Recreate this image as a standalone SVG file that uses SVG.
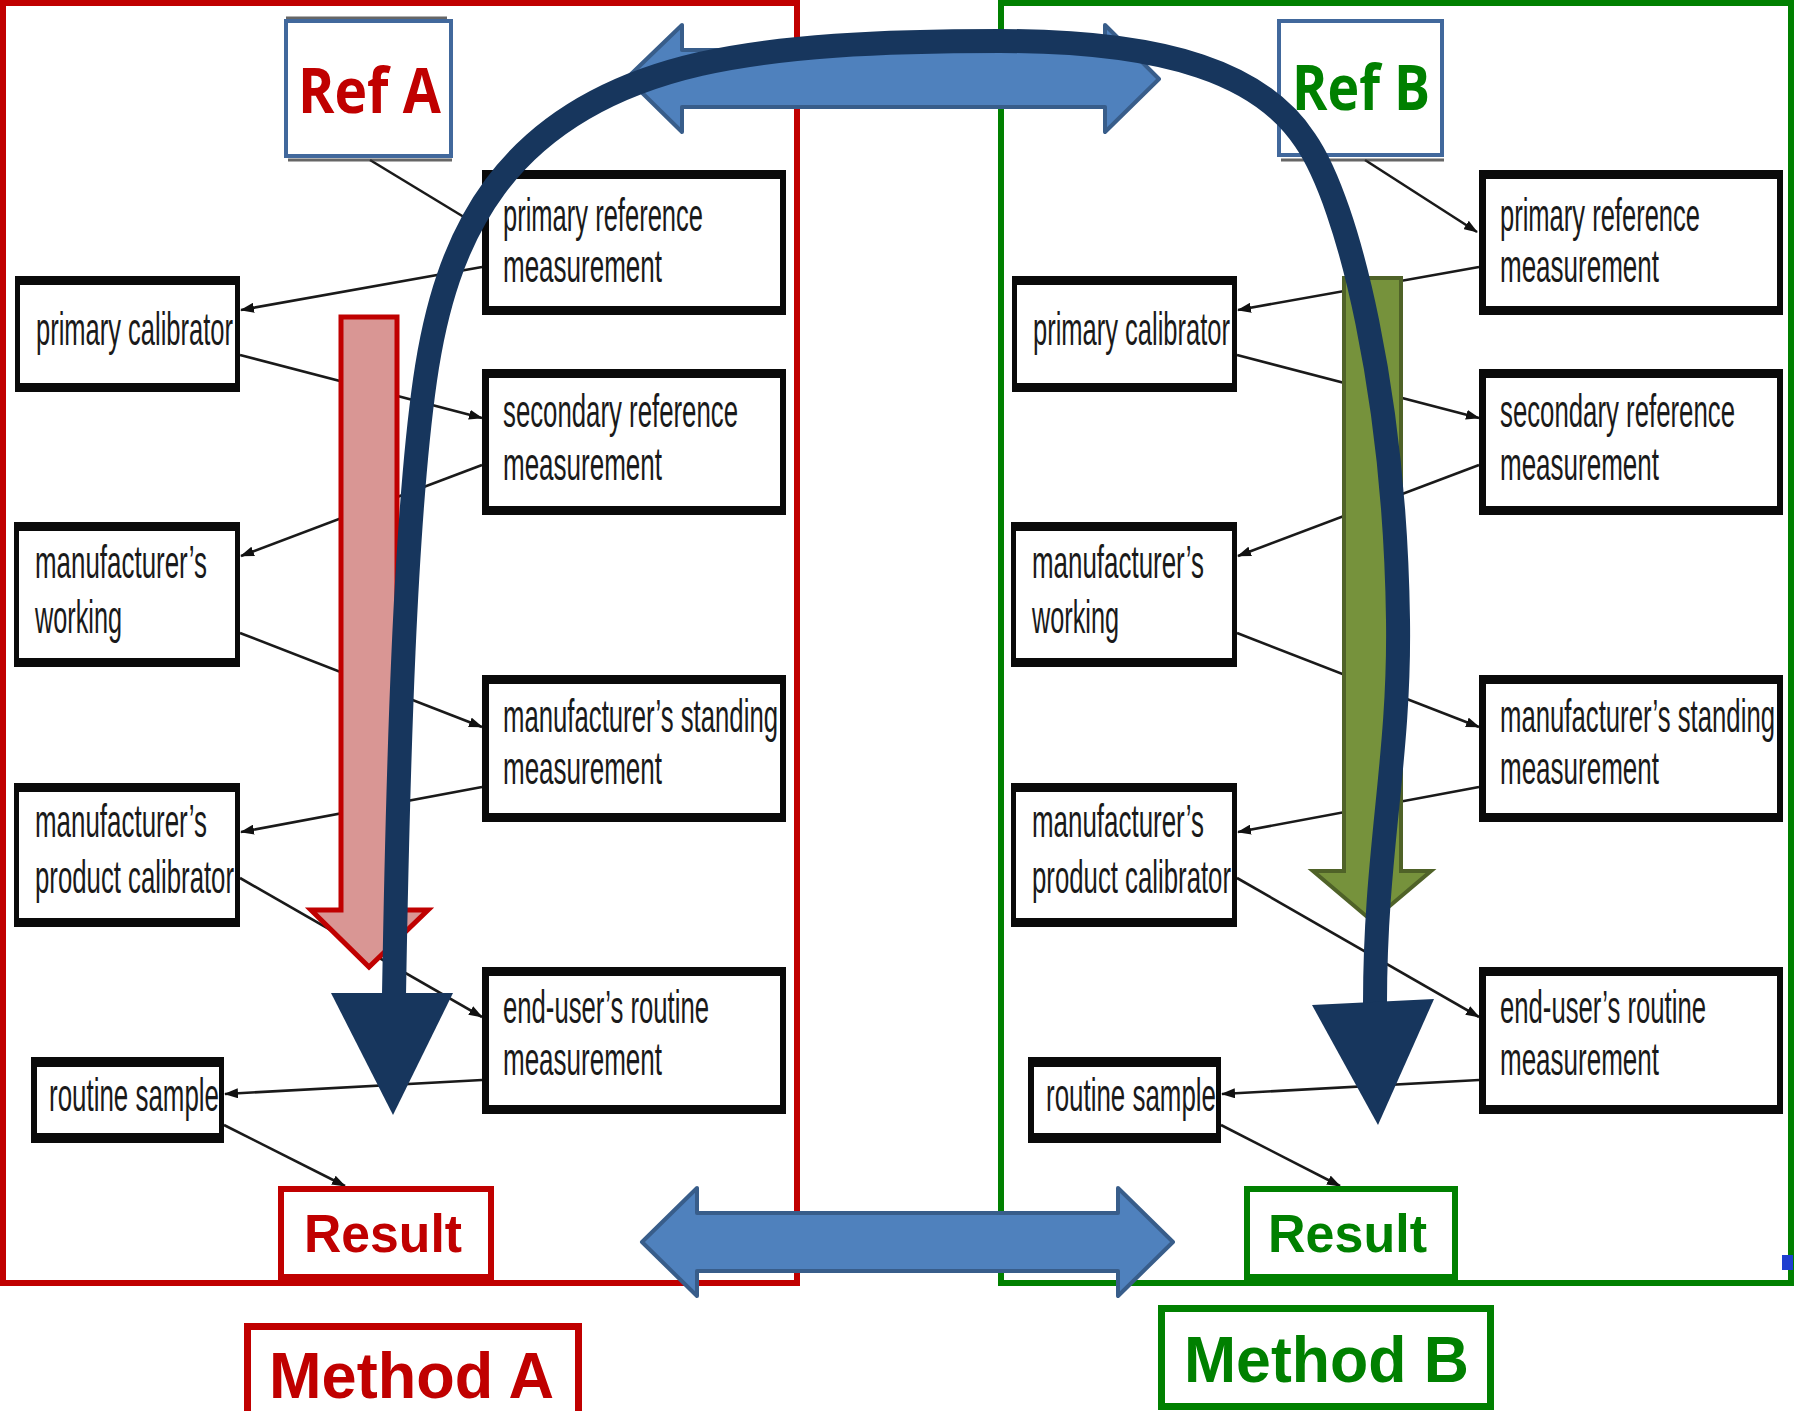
<svg xmlns="http://www.w3.org/2000/svg" width="1795" height="1411" viewBox="0 0 1795 1411">
  <defs>
    <marker id="ah" viewBox="0 0 14 10" refX="13" refY="5" markerWidth="14" markerHeight="10" markerUnits="userSpaceOnUse" orient="auto">
      <path d="M0,0 L14,5 L0,10 z" fill="#111"/>
    </marker>
    <style>
      .conn { stroke: #1a1a1a; stroke-width: 2.6; fill: none; marker-end: url(#ah); }
      .bo { fill: #0a0a0a; }
      .bi { fill: #ffffff; }
      .bt { font-family: "Liberation Sans", Arial, sans-serif; font-size: 46px; fill: #1a1a1a; }
      .ref { fill: #ffffff; stroke: #41689c; stroke-width: 4; }
      .reft { font-family: "Open Sans", "Liberation Sans", sans-serif; font-weight: 700; font-size: 63px; }
      .res { font-family: "Liberation Sans", Arial, sans-serif; font-weight: 700; }
      .red { fill: #c00000; }
      .grn { fill: #008000; }
      .dbl { fill: #4f81bd; stroke: #385d8a; stroke-width: 4; stroke-linejoin: round; }
      .shadow { stroke: #333; stroke-width: 3; opacity: 0.75; }
    </style>
  </defs>

  <rect x="0" y="0" width="1795" height="1411" fill="#ffffff"/>

  <!-- traceability chain, method A (left); box labels are set in a condensed face via a 0.56 horizontal scale -->
  <g id="chain-a">
    <g id="connectors-a">
      <line class="conn" x1="370" y1="160" x2="482" y2="228"/>
      <line class="conn" x1="482" y1="267" x2="241" y2="310"/>
      <line class="conn" x1="240" y1="355" x2="482" y2="418"/>
      <line class="conn" x1="482" y1="465" x2="241" y2="556"/>
      <line class="conn" x1="240" y1="633" x2="482" y2="727"/>
      <line class="conn" x1="482" y1="787" x2="241" y2="832"/>
      <line class="conn" x1="240" y1="878" x2="482" y2="1017"/>
      <line class="conn" x1="482" y1="1080" x2="225" y2="1094"/>
      <line class="conn" x1="224" y1="1125" x2="345" y2="1186"/>
    </g>
    <g id="a-primary-calibrator">
      <rect class="bo" x="15" y="276" width="225" height="116"/>
      <rect class="bi" x="20" y="285" width="215" height="98"/>
      <text class="bt" transform="matrix(0.56 0 0 1 36 345)" textLength="351.8" lengthAdjust="spacingAndGlyphs">primary calibrator</text>
    </g>
    <g id="a-working">
      <rect class="bo" x="14" y="522" width="226" height="145"/>
      <rect class="bi" x="19" y="531" width="216" height="127"/>
      <text class="bt" transform="matrix(0.56 0 0 1 35 578)" textLength="307.1" lengthAdjust="spacingAndGlyphs">manufacturer’s</text>
      <text class="bt" transform="matrix(0.56 0 0 1 35 633)" textLength="155.4" lengthAdjust="spacingAndGlyphs">working</text>
    </g>
    <g id="a-product-calibrator">
      <rect class="bo" x="14" y="783" width="226" height="144"/>
      <rect class="bi" x="19" y="792" width="216" height="126"/>
      <text class="bt" transform="matrix(0.56 0 0 1 35 837)" textLength="307.1" lengthAdjust="spacingAndGlyphs">manufacturer’s</text>
      <text class="bt" transform="matrix(0.56 0 0 1 35 893)" textLength="355.4" lengthAdjust="spacingAndGlyphs">product calibrator</text>
    </g>
    <g id="a-routine-sample">
      <rect class="bo" x="31" y="1057" width="193" height="86"/>
      <rect class="bi" x="37" y="1067" width="182" height="66"/>
      <text class="bt" transform="matrix(0.56 0 0 1 49 1111)" textLength="303.6" lengthAdjust="spacingAndGlyphs">routine sample</text>
    </g>
    <g id="a-primary-ref">
      <rect class="bo" x="482" y="170" width="304" height="145"/>
      <rect class="bi" x="489" y="179" width="291" height="127"/>
      <text class="bt" transform="matrix(0.56 0 0 1 503 231)" textLength="357.1" lengthAdjust="spacingAndGlyphs">primary reference</text>
      <text class="bt" transform="matrix(0.56 0 0 1 503 282)" textLength="283.9" lengthAdjust="spacingAndGlyphs">measurement</text>
    </g>
    <g id="a-secondary-ref">
      <rect class="bo" x="482" y="369" width="304" height="146"/>
      <rect class="bi" x="489" y="378" width="291" height="128"/>
      <text class="bt" transform="matrix(0.56 0 0 1 503 427)" textLength="419.6" lengthAdjust="spacingAndGlyphs">secondary reference</text>
      <text class="bt" transform="matrix(0.56 0 0 1 503 480)" textLength="283.9" lengthAdjust="spacingAndGlyphs">measurement</text>
    </g>
    <g id="a-standing">
      <rect class="bo" x="482" y="675" width="304" height="147"/>
      <rect class="bi" x="489" y="684" width="291" height="129"/>
      <text class="bt" transform="matrix(0.56 0 0 1 503 732)" textLength="491.1" lengthAdjust="spacingAndGlyphs">manufacturer’s standing</text>
      <text class="bt" transform="matrix(0.56 0 0 1 503 784)" textLength="283.9" lengthAdjust="spacingAndGlyphs">measurement</text>
    </g>
    <g id="a-end-user">
      <rect class="bo" x="482" y="967" width="304" height="147"/>
      <rect class="bi" x="489" y="976" width="291" height="129"/>
      <text class="bt" transform="matrix(0.56 0 0 1 503 1023)" textLength="367.9" lengthAdjust="spacingAndGlyphs">end-user’s routine</text>
      <text class="bt" transform="matrix(0.56 0 0 1 503 1075)" textLength="283.9" lengthAdjust="spacingAndGlyphs">measurement</text>
    </g>
  </g>

  <!-- traceability chain, method B (right) -->
  <g id="chain-b" transform="translate(997 0)">
    <g id="connectors-b">
      <line class="conn" x1="368" y1="160" x2="480" y2="232"/>
      <line class="conn" x1="482" y1="267" x2="241" y2="310"/>
      <line class="conn" x1="240" y1="355" x2="482" y2="418"/>
      <line class="conn" x1="482" y1="465" x2="241" y2="556"/>
      <line class="conn" x1="240" y1="633" x2="482" y2="727"/>
      <line class="conn" x1="482" y1="787" x2="241" y2="832"/>
      <line class="conn" x1="240" y1="878" x2="482" y2="1017"/>
      <line class="conn" x1="482" y1="1080" x2="225" y2="1094"/>
      <line class="conn" x1="224" y1="1125" x2="343" y2="1186"/>
    </g>
    <g id="b-primary-calibrator">
      <rect class="bo" x="15" y="276" width="225" height="116"/>
      <rect class="bi" x="20" y="285" width="215" height="98"/>
      <text class="bt" transform="matrix(0.56 0 0 1 36 345)" textLength="351.8" lengthAdjust="spacingAndGlyphs">primary calibrator</text>
    </g>
    <g id="b-working">
      <rect class="bo" x="14" y="522" width="226" height="145"/>
      <rect class="bi" x="19" y="531" width="216" height="127"/>
      <text class="bt" transform="matrix(0.56 0 0 1 35 578)" textLength="307.1" lengthAdjust="spacingAndGlyphs">manufacturer’s</text>
      <text class="bt" transform="matrix(0.56 0 0 1 35 633)" textLength="155.4" lengthAdjust="spacingAndGlyphs">working</text>
    </g>
    <g id="b-product-calibrator">
      <rect class="bo" x="14" y="783" width="226" height="144"/>
      <rect class="bi" x="19" y="792" width="216" height="126"/>
      <text class="bt" transform="matrix(0.56 0 0 1 35 837)" textLength="307.1" lengthAdjust="spacingAndGlyphs">manufacturer’s</text>
      <text class="bt" transform="matrix(0.56 0 0 1 35 893)" textLength="355.4" lengthAdjust="spacingAndGlyphs">product calibrator</text>
    </g>
    <g id="b-routine-sample">
      <rect class="bo" x="31" y="1057" width="193" height="86"/>
      <rect class="bi" x="37" y="1067" width="182" height="66"/>
      <text class="bt" transform="matrix(0.56 0 0 1 49 1111)" textLength="303.6" lengthAdjust="spacingAndGlyphs">routine sample</text>
    </g>
    <g id="b-primary-ref">
      <rect class="bo" x="482" y="170" width="304" height="145"/>
      <rect class="bi" x="489" y="179" width="291" height="127"/>
      <text class="bt" transform="matrix(0.56 0 0 1 503 231)" textLength="357.1" lengthAdjust="spacingAndGlyphs">primary reference</text>
      <text class="bt" transform="matrix(0.56 0 0 1 503 282)" textLength="283.9" lengthAdjust="spacingAndGlyphs">measurement</text>
    </g>
    <g id="b-secondary-ref">
      <rect class="bo" x="482" y="369" width="304" height="146"/>
      <rect class="bi" x="489" y="378" width="291" height="128"/>
      <text class="bt" transform="matrix(0.56 0 0 1 503 427)" textLength="419.6" lengthAdjust="spacingAndGlyphs">secondary reference</text>
      <text class="bt" transform="matrix(0.56 0 0 1 503 480)" textLength="283.9" lengthAdjust="spacingAndGlyphs">measurement</text>
    </g>
    <g id="b-standing">
      <rect class="bo" x="482" y="675" width="304" height="147"/>
      <rect class="bi" x="489" y="684" width="291" height="129"/>
      <text class="bt" transform="matrix(0.56 0 0 1 503 732)" textLength="491.1" lengthAdjust="spacingAndGlyphs">manufacturer’s standing</text>
      <text class="bt" transform="matrix(0.56 0 0 1 503 784)" textLength="283.9" lengthAdjust="spacingAndGlyphs">measurement</text>
    </g>
    <g id="b-end-user">
      <rect class="bo" x="482" y="967" width="304" height="147"/>
      <rect class="bi" x="489" y="976" width="291" height="129"/>
      <text class="bt" transform="matrix(0.56 0 0 1 503 1023)" textLength="367.9" lengthAdjust="spacingAndGlyphs">end-user’s routine</text>
      <text class="bt" transform="matrix(0.56 0 0 1 503 1075)" textLength="283.9" lengthAdjust="spacingAndGlyphs">measurement</text>
    </g>
  </g>

  <!-- method frames -->
  <rect id="frame-a" x="3" y="3" width="794" height="1280" fill="none" stroke="#c00000" stroke-width="6"/>
  <rect id="frame-b" x="1001" y="3" width="790" height="1280" fill="none" stroke="#008000" stroke-width="6"/>
  <rect x="1782" y="1255" width="11" height="15" fill="#1f3fd0"/>

  <!-- reference labels -->
  <g id="ref-a">
    <line class="shadow" x1="286" y1="18" x2="447" y2="18"/>
    <line class="shadow" x1="288" y1="160" x2="452" y2="160"/>
    <rect class="ref" x="286" y="21" width="165" height="135"/>
    <text class="reft red" x="298" y="113" textLength="143" lengthAdjust="spacingAndGlyphs">Ref A</text>
  </g>
  <g id="ref-b">
    <line class="shadow" x1="1281" y1="160" x2="1444" y2="160"/>
    <rect class="ref" x="1279" y="21" width="163" height="134"/>
    <text class="reft grn" x="1292" y="110" textLength="138" lengthAdjust="spacingAndGlyphs">Ref B</text>
  </g>

  <!-- result labels -->
  <g id="result-a">
    <rect x="281" y="1189" width="210" height="88" fill="#ffffff" stroke="#c00000" stroke-width="6"/>
    <text class="res red" x="304" y="1252" font-size="54" textLength="158" lengthAdjust="spacingAndGlyphs">Result</text>
  </g>
  <g id="result-b">
    <rect x="1247" y="1189" width="208" height="88" fill="#ffffff" stroke="#008000" stroke-width="6"/>
    <text class="res grn" x="1268" y="1252" font-size="54" textLength="159" lengthAdjust="spacingAndGlyphs">Result</text>
  </g>

  <!-- downward flow arrows -->
  <polygon id="flow-a" points="341,317 397,317 397,910 428,910 369,967 311,910 341,910" fill="#d99694" stroke="#c00000" stroke-width="5" stroke-linejoin="miter"/>
  <polygon id="flow-b" points="1344,278 1401,278 1401,871 1431,871 1372,921 1313,871 1344,871" fill="#76923c" stroke="#4f6228" stroke-width="4"/>

  <!-- comparison arrows -->
  <polygon id="compare-top" class="dbl" points="627,78 682,25 682,50 1105,50 1105,25 1159,79 1105,132 1105,107 682,107 682,132"/>
  <polygon id="compare-bottom" class="dbl" points="642,1242 697,1188 697,1213 1118,1213 1118,1188 1173,1242 1118,1296 1118,1271 697,1271 697,1296"/>

  <!-- calibration path linking both chains -->
  <g id="calibration-path">
    <path d="M394,995 C398,760 405,520 425,380 C445,240 500,110 700,64 C780,46 880,41 1000,41 C1170,41 1262,75 1305,140 C1350,205 1395,400 1398,620 C1400,760 1375,850 1375,1003" fill="none" stroke="#17365d" stroke-width="24"/>
    <polygon points="331,993 453,993 393,1115" fill="#17365d"/>
    <polygon points="1312,1005 1434,999 1378,1125" fill="#17365d"/>
  </g>

  <!-- method labels -->
  <g id="method-a">
    <rect x="247.5" y="1326.5" width="331" height="110" fill="#ffffff" stroke="#c00000" stroke-width="7"/>
    <text class="res red" x="269" y="1398" font-size="64" textLength="285" lengthAdjust="spacingAndGlyphs">Method A</text>
  </g>
  <g id="method-b">
    <rect x="1161.5" y="1308.5" width="329" height="98" fill="#ffffff" stroke="#008000" stroke-width="7"/>
    <text class="res grn" x="1184" y="1382" font-size="64" textLength="285" lengthAdjust="spacingAndGlyphs">Method B</text>
  </g>
</svg>
